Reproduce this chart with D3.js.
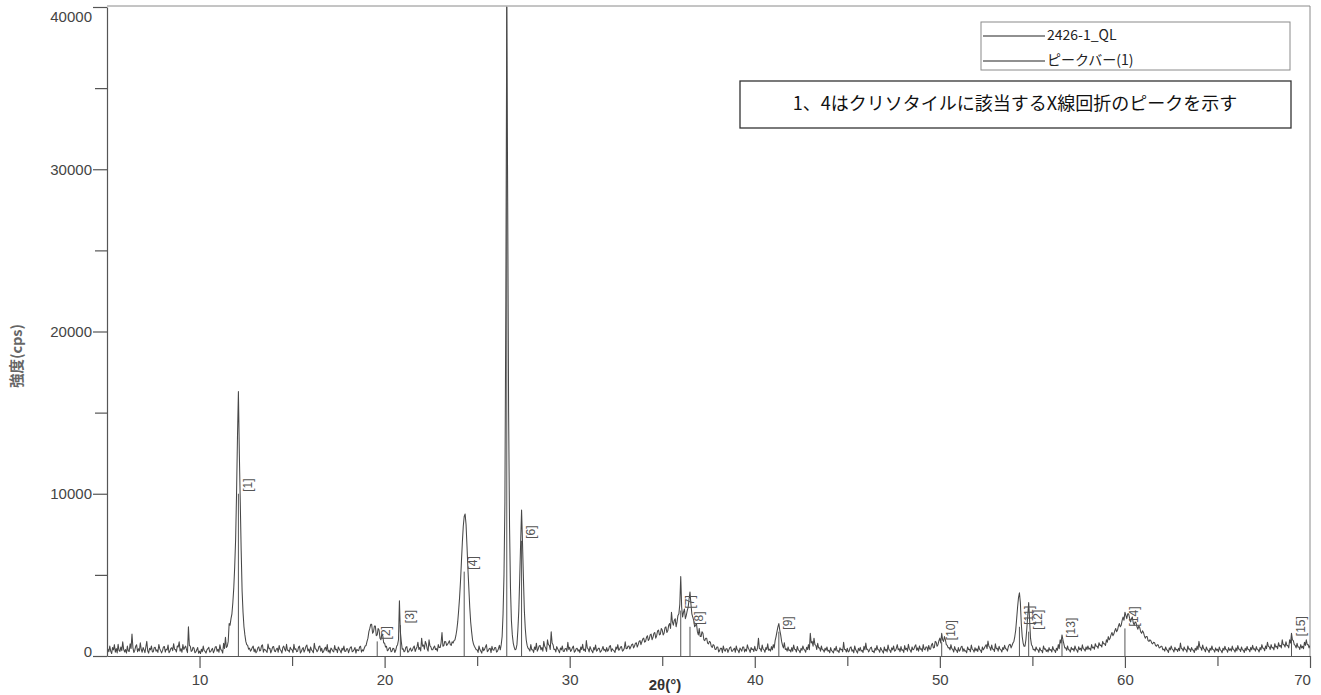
<!DOCTYPE html>
<html>
<head>
<meta charset="utf-8">
<script src="https://cdn.jsdelivr.net/npm/d3@7"></script>
<style>
  html, body { margin: 0; padding: 0; background: #fff; }
  svg { display: block; }
</style>
</head>
<body>
<svg id="chart" width="1321" height="695"></svg>
<script>
// XRD scan of sample 2426-1_QL, 2θ from 5.00° to 70.00° at 0.05° steps (cps)
const scanStart = 5.0;
const scanStep = 0.05;

const scan05 = [ // 5.00 – 14.95
  180, 420, 260, 610, 300, 150, 520, 380, 700, 240, 460, 190, 720, 350, 280, 560, 330, 880, 410, 250,
  400, 180, 610, 320, 280, 750, 460, 1350, 520, 220, 340, 600, 690, 260, 450, 310, 820, 400, 230, 520,
  380, 210, 560, 900, 310, 180, 470, 380, 620, 250, 260, 510, 540, 300, 380, 220, 710, 450, 330, 190,
  330, 560, 590, 240, 420, 380, 680, 200, 290, 470, 510, 330, 760, 420, 400, 250, 620, 560, 880, 300,
  450, 230, 700, 400, 520, 610, 380, 210, 1800, 650, 610, 280, 330, 540, 480, 200, 250, 380, 520, 170,
  300, 150, 420, 260, 610, 330, 280, 180, 380, 450, 540, 240, 260, 380, 470, 200, 330, 560, 580, 290,
  420, 230, 690, 400, 350, 180, 780, 460, 1150, 520, 600, 900, 2000, 1900, 2300, 2600, 3300, 4200, 5500, 7200,
  10000, 13500, 16300, 12500, 9500, 6500, 4000, 2700, 1800, 1300, 900, 700, 650, 420, 480, 300, 380, 520, 610, 260,
  430, 200, 280, 500, 560, 310, 350, 620, 690, 240, 420, 380, 310, 220, 740, 450, 480, 190, 350, 560,
  590, 310, 270, 420, 480, 230, 650, 400, 330, 180, 520, 610, 410, 300, 720, 350, 360, 240, 540, 420
];
const scan15 = [ // 15.00 – 24.95
  380, 210, 720, 400, 450, 260, 300, 550, 610, 180, 280, 430, 520, 240, 390, 600, 680, 310, 430, 200,
  560, 380, 310, 200, 790, 450, 420, 260, 350, 580, 620, 300, 480, 210, 270, 430, 540, 330, 700, 250,
  360, 180, 490, 420, 300, 250, 650, 380, 420, 210, 560, 430, 330, 190, 480, 360, 610, 280, 290, 450,
  450, 200, 380, 520, 570, 260, 300, 400, 520, 180, 410, 350, 330, 560, 600, 240, 380, 310, 480, 620,
  650, 900, 1100, 1500, 1700, 1950, 1950, 1400, 1500, 1850, 1850, 1250, 1300, 1700, 1600, 1100, 1000, 1350, 1250, 800,
  800, 550, 600, 320, 380, 500, 520, 260, 300, 480, 450, 220, 350, 600, 700, 1000, 3400, 1500, 900, 420,
  450, 260, 320, 540, 580, 230, 270, 410, 490, 300, 360, 520, 620, 280, 430, 560, 850, 400, 520, 310,
  1100, 600, 680, 420, 900, 750, 450, 300, 1000, 620, 560, 380, 380, 520, 620, 400, 450, 300, 700, 520,
  520, 800, 1450, 600, 640, 900, 880, 650, 720, 820, 940, 700, 650, 880, 800, 950, 1000, 1250, 1600, 2100,
  2800, 3600, 4600, 5800, 7000, 8000, 8600, 8750, 8100, 6800, 5400, 4200, 3000, 2100, 1500, 1000, 750, 600, 500, 380
];
const scan25 = [ // 25.00 – 34.95
  380, 220, 620, 400, 290, 180, 540, 330, 410, 560, 700, 260, 330, 450, 480, 210, 600, 380, 350, 520,
  520, 240, 300, 450, 660, 380, 700, 1200, 2600, 5000, 9500, 22000, 40000, 28000, 15000, 8000, 4200, 2200, 1300, 800,
  550, 380, 420, 700, 1600, 2800, 4800, 7000, 9000, 7000, 4800, 2800, 1700, 1000, 650, 480, 420, 300, 700, 380,
  380, 220, 560, 400, 790, 300, 430, 620, 650, 380, 520, 300, 900, 600, 500, 280, 1000, 700, 650, 400,
  1500, 800, 700, 400, 420, 250, 580, 450, 330, 200, 490, 380, 620, 300, 280, 450, 460, 300, 850, 400,
  540, 280, 360, 520, 610, 230, 300, 450, 480, 300, 390, 210, 560, 400, 720, 350, 420, 280, 950, 500,
  430, 250, 580, 420, 310, 200, 520, 380, 680, 300, 360, 480, 470, 230, 300, 420, 590, 350, 410, 260,
  520, 300, 380, 610, 640, 280, 450, 370, 310, 220, 560, 420, 700, 350, 420, 560, 580, 300, 350, 480,
  880, 450, 460, 600, 620, 430, 550, 700, 740, 500, 600, 780, 820, 550, 700, 900, 950, 700, 880, 1050,
  1100, 850, 900, 1150, 1250, 950, 1050, 1300, 1350, 1000, 1150, 1400, 1450, 1100, 1250, 1550, 1600, 1300, 1350, 1700
];
const scan35 = [ // 35.00 – 44.95
  1600, 1300, 1400, 1750, 1800, 1450, 1550, 1900, 2000, 1700, 2700, 2100, 1900, 2200, 2300, 1800, 2100, 2500, 2600, 3200,
  4900, 3000, 2400, 2700, 2900, 2300, 2500, 2800, 3000, 3500, 3950, 3200, 2600, 2400, 2200, 1800, 1900, 2000, 1500, 1300,
  1700, 1200, 1200, 1500, 1400, 1000, 950, 1100, 1100, 800, 750, 900, 850, 600, 520, 700, 650, 420, 400, 550,
  560, 250, 330, 480, 480, 200, 620, 380, 290, 450, 450, 220, 380, 520, 560, 300, 300, 410, 480, 230,
  620, 380, 350, 200, 490, 400, 300, 560, 560, 250, 410, 300, 690, 480, 380, 220, 520, 400, 430, 280,
  600, 350, 330, 500, 1100, 450, 450, 280, 680, 420, 380, 230, 520, 400, 750, 350, 420, 300, 580, 380,
  700, 500, 950, 1200, 1500, 1800, 2000, 1600, 1300, 900, 650, 500, 820, 400, 450, 300, 560, 330, 380, 250,
  520, 300, 680, 420, 400, 250, 590, 380, 330, 200, 470, 350, 620, 420, 360, 230, 540, 400, 700, 380,
  1400, 800, 900, 600, 1100, 700, 650, 400, 780, 500, 500, 300, 620, 380, 380, 240, 480, 350, 560, 300,
  350, 200, 520, 330, 280, 190, 460, 350, 600, 300, 330, 210, 510, 380, 420, 260, 850, 400, 400, 250
];
const scan45 = [ // 45.00 – 54.95
  480, 250, 300, 520, 560, 300, 380, 200, 620, 400, 290, 180, 470, 330, 530, 300, 350, 220, 600, 380,
  800, 400, 420, 250, 360, 500, 550, 280, 300, 200, 480, 350, 640, 400, 380, 230, 520, 380, 290, 180,
  560, 330, 410, 250, 680, 400, 350, 220, 500, 380, 620, 300, 330, 480, 700, 380, 450, 260, 580, 350,
  380, 220, 640, 400, 480, 300, 720, 450, 350, 230, 560, 380, 420, 600, 690, 350, 500, 300, 620, 420,
  450, 280, 700, 420, 380, 560, 560, 300, 650, 420, 420, 680, 780, 500, 520, 900, 850, 600, 700, 950,
  1100, 800, 1400, 1000, 900, 1200, 1000, 700, 650, 500, 520, 380, 700, 450, 400, 250, 580, 380, 350, 220,
  520, 300, 380, 560, 600, 280, 450, 300, 320, 200, 560, 400, 420, 260, 680, 420, 380, 240, 510, 330,
  440, 280, 620, 400, 350, 220, 560, 380, 480, 600, 700, 450, 920, 600, 530, 350, 680, 420, 420, 280,
  750, 450, 480, 300, 600, 420, 380, 250, 520, 400, 660, 450, 430, 300, 570, 700, 720, 500, 650, 800,
  900, 1200, 1600, 2300, 3000, 3600, 3900, 3300, 2000, 1200, 800, 600, 600, 1000, 1700, 2500, 3300, 2200, 1100, 700
];
const scan55 = [ // 55.00 – 64.95
  600, 380, 420, 300, 560, 400, 380, 220, 510, 350, 340, 200, 620, 420, 450, 280, 380, 250, 520, 350,
  400, 250, 580, 380, 350, 220, 480, 350, 700, 450, 1000, 800, 1300, 1000, 750, 500, 500, 350, 620, 380,
  380, 240, 540, 400, 450, 300, 620, 420, 360, 230, 570, 400, 480, 320, 690, 450, 420, 300, 560, 400,
  620, 420, 480, 350, 700, 500, 550, 420, 760, 600, 600, 480, 820, 650, 680, 550, 900, 750, 760, 650,
  1000, 850, 1200, 1000, 1100, 1300, 1450, 1250, 1350, 1550, 1700, 1500, 1600, 1850, 2000, 1800, 1900, 2200, 2400, 2200,
  2700, 2500, 2300, 2600, 2600, 2350, 2100, 2300, 2400, 2050, 1900, 2100, 2050, 1800, 1650, 1850, 1750, 1500, 1400, 1550,
  1450, 1250, 1100, 1200, 1200, 950, 900, 1000, 950, 800, 750, 850, 820, 650, 600, 700, 680, 500, 520, 600,
  600, 380, 430, 300, 560, 400, 350, 220, 500, 380, 620, 420, 380, 250, 540, 380, 420, 280, 480, 330,
  800, 450, 450, 300, 560, 400, 380, 240, 620, 420, 440, 280, 520, 380, 350, 220, 480, 350, 610, 400,
  900, 550, 520, 350, 680, 450, 400, 260, 560, 400, 350, 220, 480, 350, 620, 400, 380, 240, 500, 350
];
const scan65 = [ // 65.00 – 70.00
  420, 260, 560, 380, 330, 200, 480, 350, 600, 400, 380, 230, 520, 350, 440, 300, 610, 400, 370, 240,
  500, 320, 640, 420, 420, 280, 560, 380, 350, 220, 480, 330, 590, 400, 400, 260, 530, 380, 660, 420,
  450, 300, 580, 400, 380, 250, 520, 380, 700, 480, 480, 320, 620, 450, 850, 600, 560, 400, 700, 500,
  520, 380, 760, 550, 600, 450, 820, 600, 650, 500, 1000, 700, 700, 550, 880, 650, 640, 500, 1000, 800,
  1400, 1000, 950, 700, 650, 500, 780, 550, 560, 400, 700, 500, 600, 450, 850, 650, 1000, 700, 700, 500,
  650
];

// Peak bars: position (2θ) and bar height (cps)
const peakPositions = [12.1, 19.6, 20.85, 24.3, 26.6, 27.4, 36.0, 36.5, 41.3, 50.1, 54.3, 54.8, 56.6, 60.0, 69.0];
const peakBarHeights = [10000, 900, 1900, 5200, 40000, 7100, 2800, 1800, 1500, 850, 1800, 1500, 1000, 1700, 1100];
const peakLabels = ["[1]", "[2]", "[3]", "[4]", "[5]", "[6]", "[7]", "[8]", "[9]", "[10]", "[11]", "[12]", "[13]", "[14]", "[15]"];

// Axis ticks
const xMajorTicks = [10, 20, 30, 40, 50, 60, 70];
const xMinorTicks = [15, 25, 35, 45, 55, 65];
const yMajorTicks = [0, 10000, 20000, 30000, 40000];
const yMinorTicks = [5000, 15000, 25000, 35000];

const legendNames = ["2426-1_QL", "ピークバー(1)"];
const noteText = "1、4はクリソタイルに該当するX線回折のピークを示す";
const xTitle = "2θ(°)";
const yTitle = "強度(cps)";

// ---------------------------------------------------------------
(function draw() {
  const svg = d3.select("#chart");
  const plotLeft = 107, plotRight = 1310, plotTop = 6, plotBottom = 656;
  const yMax = 40000;

  const x = d3.scaleLinear().domain([5, 70]).range([plotLeft, plotRight]);
  const y = d3.scaleLinear().domain([0, yMax]).range([plotBottom, plotTop + 1]);

  const intensities = [].concat(scan05, scan15, scan25, scan35, scan45, scan55, scan65);
  const scan = intensities.map((v, i) => ({ t: scanStart + i * scanStep, v }));

  const labelFont = "'Liberation Sans', Arial, sans-serif";
  const axisColor = "#555";

  // frame (top and right edges)
  svg.append("path")
    .attr("d", `M${plotLeft},${plotTop}H${plotRight}V${plotBottom}`)
    .attr("fill", "none")
    .attr("stroke", "#8a8a8a")
    .attr("stroke-width", 1);

  svg.append("defs").append("clipPath").attr("id", "plotClip")
    .append("rect").attr("x", plotLeft).attr("y", plotTop)
    .attr("width", plotRight - plotLeft).attr("height", plotBottom - plotTop);

  const plot = svg.append("g").attr("clip-path", "url(#plotClip)");

  const peaks = peakPositions.map((p, i) => ({ pos: p, h: peakBarHeights[i], label: peakLabels[i] }));

  // peak bars
  plot.selectAll("line.bar")
    .data(peaks)
    .join("line")
    .attr("class", "bar")
    .attr("x1", d => x(d.pos)).attr("x2", d => x(d.pos))
    .attr("y1", y(0)).attr("y2", d => y(d.h))
    .attr("stroke", "#555")
    .attr("stroke-width", 1);

  // diffraction pattern
  plot.append("path")
    .datum(scan)
    .attr("d", d3.line().x(d => x(d.t)).y(d => y(d.v)))
    .attr("fill", "none")
    .attr("stroke", "#474747")
    .attr("stroke-width", 1.05)
    .attr("stroke-linejoin", "round");

  // peak labels, rotated, on top of each bar (bars reaching full scale have no room)
  plot.selectAll("text.peak")
    .data(peaks.filter(d => d.h < yMax))
    .join("text")
    .attr("class", "peak")
    .attr("transform", d => `translate(${x(d.pos) + 10},${y(d.h) - 2}) rotate(-90)`)
    .attr("dominant-baseline", "middle")
    .attr("font-family", labelFont)
    .attr("font-size", 12)
    .attr("fill", "#555")
    .text(d => d.label);

  // x axis
  const xAxis = svg.append("g")
    .attr("transform", `translate(0,${plotBottom})`)
    .call(d3.axisBottom(x).tickValues(xMajorTicks).tickSize(12).tickSizeOuter(0).tickFormat(d3.format("d")));
  svg.append("g")
    .attr("transform", `translate(0,${plotBottom})`)
    .call(d3.axisBottom(x).tickValues(xMinorTicks).tickSize(10).tickSizeOuter(0).tickFormat(""))
    .call(g => g.select(".domain").remove());

  // y axis
  const yAxis = svg.append("g")
    .attr("transform", `translate(${plotLeft},0)`)
    .call(d3.axisLeft(y).tickValues(yMajorTicks).tickSize(14).tickSizeOuter(0).tickFormat(d3.format("d")));
  svg.append("g")
    .attr("transform", `translate(${plotLeft},0)`)
    .call(d3.axisLeft(y).tickValues(yMinorTicks).tickSize(12).tickSizeOuter(0).tickFormat(""))
    .call(g => g.select(".domain").remove());

  svg.selectAll(".domain, .tick line").attr("stroke", axisColor).attr("stroke-width", 1.2);
  svg.selectAll(".tick text")
    .attr("font-family", labelFont)
    .attr("font-size", 15)
    .attr("fill", "#444");

  xAxis.selectAll(".tick text").attr("y", 18);
  xAxis.selectAll(".tick").filter(d => d === 70).select("text").attr("dx", -8);
  yAxis.selectAll(".tick text").attr("x", -15);
  yAxis.selectAll(".tick").filter(d => d === 40000).select("text").attr("dy", "0.95em");
  yAxis.selectAll(".tick").filter(d => d === 0).select("text").attr("dy", "0em");

  // axis titles
  svg.append("text")
    .attr("x", 665).attr("y", 690)
    .attr("text-anchor", "middle")
    .attr("font-family", labelFont)
    .attr("font-weight", "bold")
    .attr("font-size", 15)
    .attr("fill", "#333")
    .text(xTitle);

  svg.append("text")
    .attr("transform", "translate(18,356) rotate(-90)")
    .attr("text-anchor", "middle")
    .attr("dominant-baseline", "middle")
    .attr("font-family", "'Noto Sans CJK JP', 'Liberation Sans', sans-serif")
    .attr("font-weight", "bold")
    .attr("font-size", 14.5)
    .attr("fill", "#666")
    .text(yTitle);

  // legend
  const legend = svg.append("g");
  legend.append("rect")
    .attr("x", 981).attr("y", 22).attr("width", 309).attr("height", 48)
    .attr("fill", "#fff").attr("stroke", "#8a8a8a").attr("stroke-width", 1);
  legendNames.forEach((name, i) => {
    const ly = 36 + i * 25;
    legend.append("line")
      .attr("x1", 983).attr("x2", 1045).attr("y1", ly).attr("y2", ly)
      .attr("stroke", "#222").attr("stroke-width", 1.2);
    legend.append("text")
      .attr("x", 1047).attr("y", ly)
      .attr("dominant-baseline", "middle")
      .attr("font-family", "'Liberation Sans Narrow', 'Noto Sans CJK JP', sans-serif")
      .attr("font-size", 14)
      .attr("fill", "#222")
      .text(name);
  });

  // note box
  svg.append("rect")
    .attr("x", 740).attr("y", 81).attr("width", 551).attr("height", 47)
    .attr("fill", "#fff").attr("stroke", "#333").attr("stroke-width", 1.3);
  svg.append("text")
    .attr("x", 1015).attr("y", 105)
    .attr("text-anchor", "middle")
    .attr("dominant-baseline", "middle")
    .attr("font-family", "'Noto Sans CJK JP', sans-serif")
    .attr("font-size", 18)
    .attr("fill", "#111")
    .text(noteText);
})();
</script>
</body>
</html>
